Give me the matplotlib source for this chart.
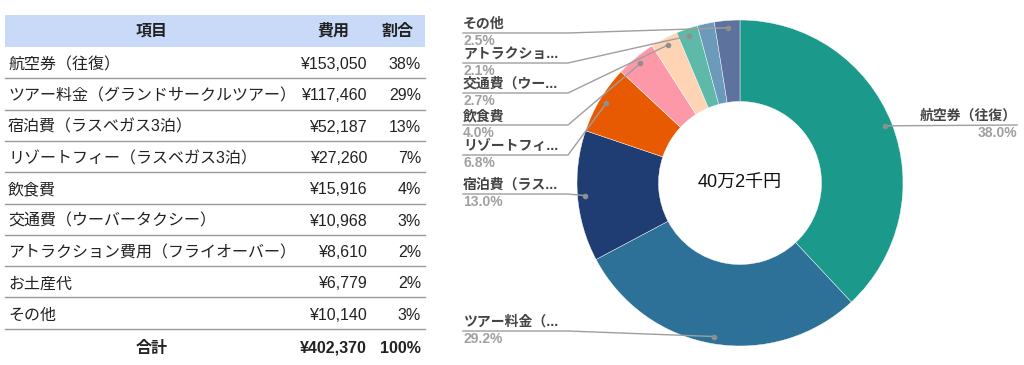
import numpy as np
import matplotlib.pyplot as plt
from matplotlib.patches import Rectangle

plt.rcParams['font.family'] = ['Liberation Sans', 'Noto Sans CJK JP']

# データ
items = ['航空券（往復）', 'ツアー料金（グランドサークルツアー）', '宿泊費（ラスベガス3泊）',
         'リゾートフィー（ラスベガス3泊）', '飲食費', '交通費（ウーバータクシー）',
         'アトラクション費用（フライオーバー）', 'お土産代', 'その他']
costs = [153050, 117460, 52187, 27260, 15916, 10968, 8610, 6779, 10140]
pie_labels = ['航空券（往復）', 'ツアー料金（...', '宿泊費（ラス...', 'リゾートフィ...',
              '飲食費', '交通費（ウー...', 'アトラクショ...', '', 'その他']
colors = ['#1b998b', '#2e7198', '#1f3c73', '#e85a02', '#fc98a8',
          '#fed4b5', '#5fb9a8', '#6b9abb', '#5e729e']

total = sum(costs)
W, H = 1024, 365

fig = plt.figure(figsize=(W / 100, H / 100), dpi=100)
ax = fig.add_axes([0, 0, 1, 1])


def Y(y):
    # 上からのピクセル位置 -> 軸座標
    return H - y


# ---- 表 ----
tx0, tx1 = 5, 425
head_top, head_bot = 15, 47
row_h = 31.3
fs = 11.5
ax.add_patch(Rectangle((tx0, Y(head_bot)), tx1 - tx0, head_bot - head_top,
                       facecolor='#c9daf8', edgecolor='none'))
hy = Y((head_top + head_bot) / 2)
ax.text(152, hy, '項目', ha='center', va='center', fontsize=fs, fontweight='bold', color='#222222')
ax.text(333, hy, '費用', ha='center', va='center', fontsize=fs, fontweight='bold', color='#222222')
ax.text(397, hy, '割合', ha='center', va='center', fontsize=fs, fontweight='bold', color='#222222')

for i, (name, c) in enumerate(zip(items, costs)):
    top = head_bot + i * row_h
    cy = Y(top + row_h / 2 + 2)
    ax.text(8, cy, name, ha='left', va='center', fontsize=fs, color='#222222')
    ax.text(367, cy, f'¥{c:,}', ha='right', va='center', fontsize=fs, color='#222222')
    ax.text(421, cy, f'{round(c / total * 100)}%', ha='right', va='center', fontsize=fs, color='#222222')
    ax.plot([tx0, tx1], [Y(top + row_h)] * 2, color='#9a9a9a', lw=1)

top = head_bot + len(items) * row_h
cy = Y(top + row_h / 2 + 4)
ax.text(152, cy, '合計', ha='center', va='center', fontsize=fs, fontweight='bold', color='#222222')
ax.text(367, cy, f'¥{total:,}', ha='right', va='center', fontsize=fs, fontweight='bold', color='#222222')
ax.text(421, cy, '100%', ha='right', va='center', fontsize=fs, fontweight='bold', color='#222222')

# ---- ドーナツ ----
cx, cyp, R = 740, 183, 163
wedges, _ = ax.pie(costs, colors=colors, startangle=90, counterclock=False,
                   center=(cx, Y(cyp)), radius=R,
                   wedgeprops=dict(width=R * 0.5, edgecolor='white', linewidth=0.3))

man = total // 10000
sen = round((total % 10000) / 1000)
ax.text(cx, Y(cyp), f'{man}万{sen}千円', ha='center', va='center', fontsize=13, color='#111111')

# ラベルの下線の高さ（上からのピクセル）
label_y = {0: 125, 1: 331, 2: 194, 3: 155, 4: 125, 5: 93, 6: 63, 8: 33}
lx_left, knee, lx_right = 463, 568, 1017
for i, w in enumerate(wedges):
    if i not in label_y:
        continue
    ang = np.deg2rad((w.theta1 + w.theta2) / 2)
    dx = cx + 0.955 * R * np.cos(ang)
    dy = Y(cyp) + 0.955 * R * np.sin(ang)
    uy = Y(label_y[i])
    pct = f'{costs[i] / total * 100:.1f}%'
    if dx > cx:
        ax.plot([dx, lx_right], [dy, uy], color='#9e9e9e', lw=1)
        ax.text(lx_right, uy + 2, pie_labels[i], ha='right', va='bottom',
                fontsize=10, fontweight='bold', color='#444444')
        ax.text(lx_right, uy - 1, pct, ha='right', va='top',
                fontsize=10, fontweight='bold', color='#a0a0a0')
    else:
        ax.plot([lx_left, knee, dx], [uy, uy, dy], color='#9e9e9e', lw=1)
        ax.text(lx_left, uy + 2, pie_labels[i], ha='left', va='bottom',
                fontsize=10, fontweight='bold', color='#444444')
        ax.text(lx_left, uy - 1, pct, ha='left', va='top',
                fontsize=10, fontweight='bold', color='#a0a0a0')
    ax.plot(dx, dy, 'o', color='#8f8f8f', markersize=3)

ax.set_xlim(0, W)
ax.set_ylim(0, H)
ax.set_aspect('auto')
ax.axis('off')

fig.savefig('out.png', dpi=100)
